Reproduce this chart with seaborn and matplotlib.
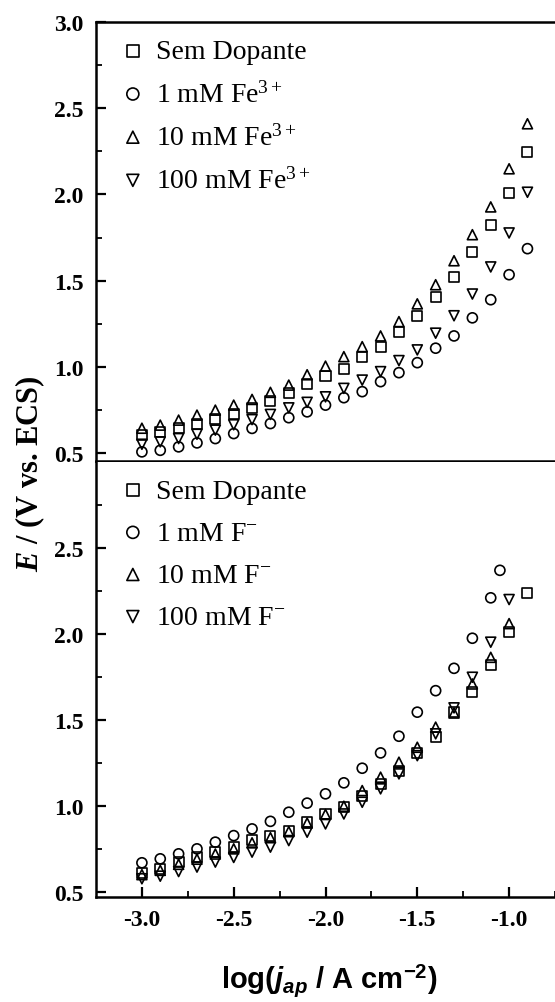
import matplotlib
matplotlib.use("Agg")
import matplotlib.pyplot as plt
import seaborn as sns
import pandas as pd

# ---------------- data ----------------
x_std = [-3.0, -2.9, -2.8, -2.7, -2.6, -2.5, -2.4, -2.3, -2.2, -2.1, -2.0,
         -1.9, -1.8, -1.7, -1.6, -1.5, -1.4, -1.3, -1.2, -1.1, -1.0, -0.9]
x_to_m10 = [-3.0, -2.9, -2.8, -2.7, -2.6, -2.5, -2.4, -2.3, -2.2, -2.1, -2.0,
            -1.9, -1.8, -1.7, -1.6, -1.5, -1.4, -1.3, -1.2, -1.1, -1.0]
x_circ_f = [-3.0, -2.9, -2.8, -2.7, -2.6, -2.5, -2.4, -2.3, -2.2, -2.1, -2.0,
            -1.9, -1.8, -1.7, -1.6, -1.5, -1.4, -1.3, -1.2, -1.1, -1.05]

# Top panel (Fe3+)
fe_sem = [0.605, 0.625, 0.645, 0.670, 0.700, 0.730, 0.765, 0.800, 0.850, 0.900, 0.948,
          0.990, 1.056, 1.114, 1.200, 1.297, 1.405, 1.520, 1.665, 1.822, 2.006, 2.244]
fe_1 = [0.508, 0.517, 0.537, 0.560, 0.585, 0.614, 0.644, 0.672, 0.706, 0.740, 0.779,
        0.822, 0.857, 0.915, 0.967, 1.025, 1.109, 1.180, 1.285, 1.390, 1.535, 1.686]
fe_10 = [0.645, 0.663, 0.692, 0.721, 0.750, 0.779, 0.812, 0.853, 0.895, 0.955, 1.005,
         1.060, 1.118, 1.180, 1.263, 1.366, 1.477, 1.616, 1.767, 1.928, 2.149, 2.410]
fe_100 = [0.552, 0.566, 0.585, 0.610, 0.634, 0.665, 0.695, 0.725, 0.763, 0.795, 0.827,
          0.876, 0.924, 0.973, 1.037, 1.099, 1.196, 1.297, 1.423, 1.580, 1.777, 2.013]

# Bottom panel (F-)
f_sem = [0.610, 0.634, 0.676, 0.700, 0.731, 0.760, 0.800, 0.827, 0.856, 0.905, 0.953,
         0.992, 1.060, 1.128, 1.205, 1.310, 1.400, 1.548, 1.661, 1.820, 2.010, 2.240]
f_1 = [0.669, 0.692, 0.721, 0.750, 0.789, 0.827, 0.866, 0.910, 0.963, 1.016, 1.070,
       1.134, 1.219, 1.308, 1.405, 1.545, 1.670, 1.800, 1.975, 2.210, 2.370]
f_10 = [0.600, 0.625, 0.660, 0.690, 0.720, 0.750, 0.785, 0.815, 0.850, 0.900, 0.950,
        0.998, 1.089, 1.167, 1.254, 1.341, 1.458, 1.540, 1.709, 1.864, 2.060]
f_100 = [0.576, 0.591, 0.618, 0.644, 0.673, 0.700, 0.731, 0.760, 0.798, 0.847, 0.895,
         0.953, 1.021, 1.099, 1.186, 1.292, 1.419, 1.570, 1.748, 1.952, 2.200]

labels_fe = ["Sem Dopante", "1 mM Fe$^{3+}$", "10 mM Fe$^{3+}$", "100 mM Fe$^{3+}$"]
labels_f = ["Sem Dopante", "1 mM F$^{-}$", "10 mM F$^{-}$", "100 mM F$^{-}$"]
markers = ["s", "o", "^", "v"]

x_ticks = [-3.0, -2.5, -2.0, -1.5, -1.0]
y_ticks = [0.5, 1.0, 1.5, 2.0, 2.5, 3.0]

# ---------------- style ----------------
sns.set_theme(style="ticks")
plt.rcParams["font.family"] = ["Liberation Serif", "DejaVu Serif"]
plt.rcParams["mathtext.fontset"] = "custom"
plt.rcParams["mathtext.rm"] = "Liberation Serif"
plt.rcParams["mathtext.it"] = "Liberation Serif:italic:bold"
plt.rcParams["mathtext.sf"] = "Liberation Sans:italic:bold"
plt.rcParams["mathtext.bf"] = "Liberation Sans:bold"
plt.rcParams["axes.unicode_minus"] = False
plt.rcParams["text.color"] = "black"
plt.rcParams["xtick.color"] = "black"
plt.rcParams["ytick.color"] = "black"
plt.rcParams["xtick.labelcolor"] = "black"
plt.rcParams["ytick.labelcolor"] = "black"

W, H = 555, 1003
fig = plt.figure(figsize=(W / 100, H / 100), dpi=100)

left = 96 / W
width = 1 - left
ax_top = fig.add_axes([left, 1 - 462 / H, width, (462 - 23) / H])
ax_bot = fig.add_axes([left, 1 - 898 / H, width, (898 - 463) / H])


def draw(ax, series, labels, ylo):
    for (xs, ys), lab, m in zip(series, labels, markers):
        df = pd.DataFrame({"x": xs, "y": ys})
        sns.scatterplot(data=df, x="x", y="y", marker=m, s=52,
                        facecolor="none", edgecolor="black", linewidth=1.2,
                        label=lab, ax=ax, zorder=3)
    ax.set_xlim(-3.25, -0.8)
    ax.set_ylim(ylo, 3.0)
    ax.set_xticks(x_ticks)
    ax.set_xticks([-2.75, -2.25, -1.75, -1.25, -0.75], minor=True)
    ax.set_yticks(y_ticks)
    ax.set_yticks([0.75, 1.25, 1.75, 2.25, 2.75], minor=True)
    ax.set_xlabel("")
    ax.set_ylabel("")
    for s in ["left", "top", "bottom"]:
        ax.spines[s].set_linewidth(1.8)
        ax.spines[s].set_color("black")
    ax.spines["right"].set_visible(False)
    ax.tick_params(axis="both", which="major", direction="in", length=7,
                   width=1.6, color="black", labelcolor="black")
    ax.tick_params(axis="both", which="minor", direction="in", length=4,
                   width=1.3, color="black")
    ax.tick_params(axis="y", which="both", labelsize=17, pad=9)
    ax.tick_params(axis="x", which="both", labelsize=17, pad=9)


draw(ax_top, [(x_std, fe_sem), (x_std, fe_1), (x_std, fe_10), (x_std, fe_100)],
     labels_fe, 0.455)
draw(ax_bot, [(x_std, f_sem), (x_circ_f, f_1), (x_to_m10, f_10), (x_to_m10, f_100)],
     labels_f, 0.47)

# top panel: no x ticks / labels; bottom panel: no "3.0" label
ax_top.tick_params(axis="x", which="both", bottom=False, labelbottom=False)
ax_bot.set_yticks([0.5, 1.0, 1.5, 2.0, 2.5])
ax_bot.spines["top"].set_visible(False)
for ax in (ax_top, ax_bot):
    for t in ax.get_yticklabels() + ax.get_xticklabels():
        t.set_fontweight("bold")
        t.set_color("black")

for ax, ytop in [(ax_top, 0.962), (ax_bot, 0.963)]:
    ax.legend(loc="upper left", bbox_to_anchor=(0.05, ytop), frameon=False,
              fontsize=20, handlelength=1.0, handletextpad=0.35,
              labelspacing=0.6, borderpad=0, borderaxespad=0,
              markerscale=1.2, labelcolor="black")

fig.text(30 / W, 1 - 474 / H, r"$\mathit{E}$ / (V vs. ECS)", rotation=90,
         ha="center", va="center", fontsize=22, fontweight="bold")
fig.text(329 / W, 1 - 982 / H,
         r"log($\mathsf{j_{ap}}$ / A cm$^{\mathbf{-2}}$)",
         ha="center", va="center", fontsize=21, fontweight="bold",
         family=["Liberation Sans", "DejaVu Sans"])

fig.savefig("out.png", dpi=100)
